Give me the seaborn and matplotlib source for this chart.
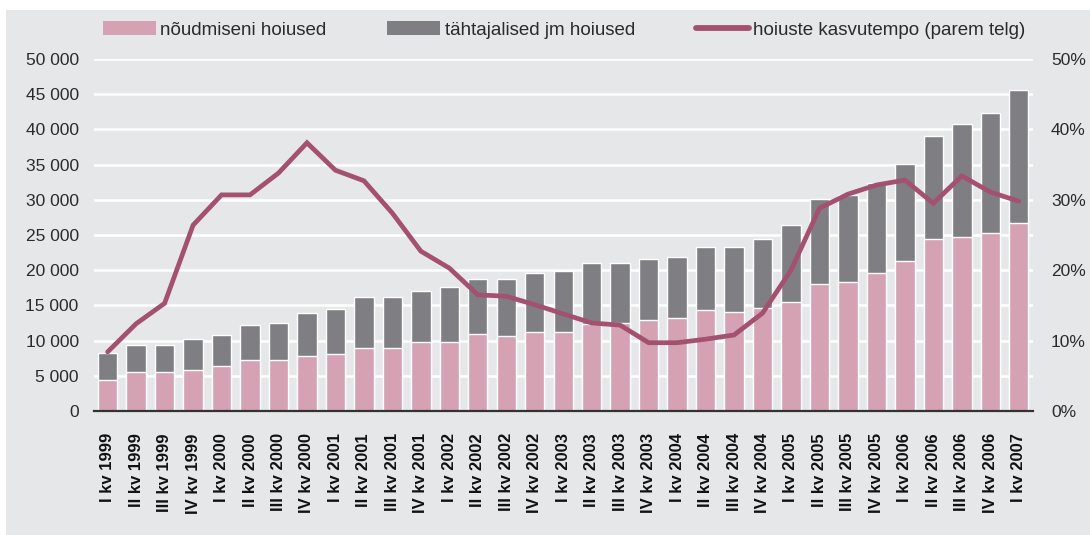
import numpy as np
import pandas as pd
import matplotlib
matplotlib.use("Agg")
import matplotlib.pyplot as plt
import seaborn as sns
from matplotlib.patches import Rectangle, Patch
from matplotlib.lines import Line2D
from matplotlib.ticker import FuncFormatter, MultipleLocator

# ---- data ----
quarters = [
    "I kv 1999", "II kv 1999", "III kv 1999", "IV kv 1999",
    "I kv 2000", "II kv 2000", "III kv 2000", "IV kv 2000",
    "I kv 2001", "II kv 2001", "III kv 2001", "IV kv 2001",
    "I kv 2002", "II kv 2002", "III kv 2002", "IV kv 2002",
    "I kv 2003", "II kv 2003", "III kv 2003", "IV kv 2003",
    "I kv 2004", "II kv 2004", "III kv 2004", "IV kv 2004",
    "I kv 2005", "II kv 2005", "III kv 2005", "IV kv 2005",
    "I kv 2006", "II kv 2006", "III kv 2006", "IV kv 2006",
    "I kv 2007",
]
demand_deposits = [4400, 5500, 5500, 5800, 6400, 7200, 7200, 7800,
                   8100, 8900, 8900, 9800, 9800, 10900, 10700, 11200,
                   11200, 12300, 12500, 12900, 13200, 14300, 14100, 14600,
                   15500, 18000, 18300, 19600, 21300, 24400, 24700, 25300,
                   26700]
total_deposits = [8300, 9400, 9400, 10200, 10800, 12200, 12500, 13900,
                  14500, 16200, 16200, 17000, 17600, 18700, 18700, 19600,
                  19900, 21000, 21000, 21600, 21900, 23300, 23300, 24400,
                  26400, 30100, 30700, 32400, 35100, 39000, 40700, 42400,
                  45600]
time_deposits = [t - d for t, d in zip(total_deposits, demand_deposits)]
growth_rate = [8.4, 12.4, 15.3, 26.4, 30.7, 30.7, 33.8, 38.1,
               34.2, 32.7, 28.1, 22.7, 20.3, 16.5, 16.3, 15.1,
               13.8, 12.5, 12.2, 9.7, 9.7, 10.2, 10.8, 13.9,
               20.0, 28.8, 30.8, 32.1, 32.8, 29.5, 33.4, 31.1,
               29.8]
legend_labels = ["nõudmiseni hoiused", "tähtajalised jm hoiused",
                 "hoiuste kasvutempo (parem telg)"]

# ---- style ----
PINK = "#d4a2b3"
GREY = "#7f7f83"
LINE = "#a4506f"
BG = "#e6e7e9"
TXT = "#2b2b2b"

sns.set_theme(style="white")
plt.rcParams["font.family"] = ["Liberation Sans", "DejaVu Sans"]

W, H = 1090, 535
fig = plt.figure(figsize=(W / 100, H / 100), dpi=100)
fig.patch.set_facecolor("white")
fig.add_artist(Rectangle((6 / W, 0), 1 - 6 / W, 1 - 10 / H,
                         transform=fig.transFigure, facecolor=BG,
                         edgecolor="none", zorder=-10))

left, right, bottom, top = 94, 1033, 411, 59
ax = fig.add_axes([left / W, 1 - bottom / H, (right - left) / W, (bottom - top) / H])
ax.set_facecolor("none")

df = pd.DataFrame({"kvartal": quarters,
                   "kokku": total_deposits,
                   "noudmiseni": demand_deposits})

sns.barplot(data=df, x="kvartal", y="kokku", color=GREY, saturation=1,
            width=0.68, ax=ax, zorder=2)
sns.barplot(data=df, x="kvartal", y="noudmiseni", color=PINK, saturation=1,
            width=0.68, ax=ax, zorder=3)

ax.set_xlim(-0.48, len(quarters) - 0.5)
ax.set_ylim(0, 50000)
ax.yaxis.set_major_locator(MultipleLocator(5000))
ax.yaxis.set_major_formatter(FuncFormatter(lambda v, p: f"{v:,.0f}".replace(",", " ")))
ax.yaxis.grid(True, color="white", lw=1.8, zorder=0)
ax.set_axisbelow(True)
ax.set_xlabel("")
ax.set_ylabel("")
for s in ["top", "left", "right"]:
    ax.spines[s].set_visible(False)
ax.spines["bottom"].set_color("#333333")
ax.spines["bottom"].set_linewidth(1.6)
ax.spines["bottom"].set_zorder(5)
ax.tick_params(axis="y", length=0, pad=11, labelsize=12.5, labelcolor=TXT)
ax.tick_params(axis="x", length=0, pad=16, labelsize=12, labelcolor="#111111")
for lab in ax.get_xticklabels():
    lab.set_rotation(90)
    lab.set_fontweight("bold")
    lab.set_va("top")
    lab.set_ha("center")

ax2 = ax.twinx()
ax2.set_facecolor("none")
sns.lineplot(x=np.arange(len(quarters)), y=growth_rate, ax=ax2, color=LINE,
             lw=3.4, solid_joinstyle="miter", zorder=6)
ax2.set_ylim(0, 50)
ax2.yaxis.set_major_locator(MultipleLocator(10))
ax2.yaxis.set_major_formatter(FuncFormatter(lambda v, p: f"{v:.0f}%"))
for s in ax2.spines.values():
    s.set_visible(False)
ax2.tick_params(axis="y", length=0, pad=13, labelsize=12.5, labelcolor=TXT)
ax2.set_ylabel("")
ax2.grid(False)
ax2.set_xlim(ax.get_xlim())

handles = [Patch(facecolor=PINK, edgecolor="none"),
           Patch(facecolor=GREY, edgecolor="none"),
           Line2D([0], [0], color=LINE, lw=4.2)]
fs = 13.5
fig.legend(handles, legend_labels, loc="center left",
           bbox_to_anchor=(103 / W, 1 - 30 / H), ncol=3, frameon=False,
           fontsize=fs, handlelength=2.83, handleheight=0.72,
           handletextpad=0.22, columnspacing=3.25, borderpad=0,
           borderaxespad=0, labelcolor=TXT)

fig.savefig("out.png", dpi=100, facecolor=fig.get_facecolor())
